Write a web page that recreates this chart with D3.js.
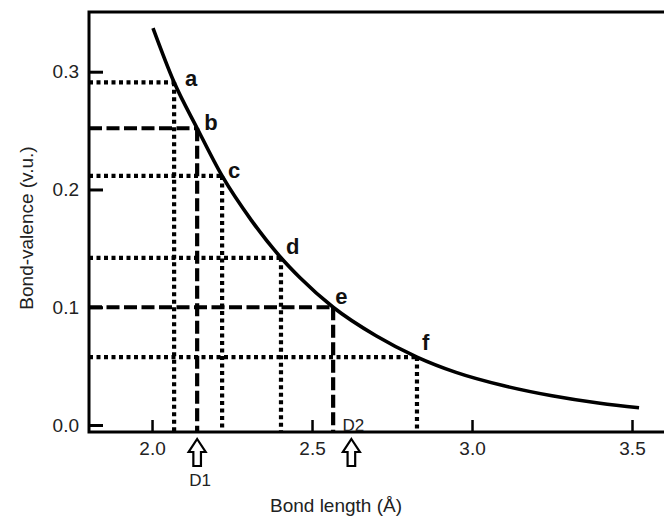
<!DOCTYPE html>
<html>
<head>
<meta charset="utf-8">
<script src="https://cdn.jsdelivr.net/npm/d3@7"></script>
<style>
  html, body { margin: 0; padding: 0; background: #fff; }
  svg { display: block; }
  text { font-family: "Liberation Sans", Arial, sans-serif; }
</style>
</head>
<body>
<svg id="chart" width="664" height="521"></svg>
<script>
// ---- data ----
const curveR = [2.003, 2.069, 2.141, 2.219, 2.31, 2.403, 2.4625, 2.566, 2.70, 2.828, 2.95, 3.10, 3.25, 3.40, 3.522];
const curveS = [0.337, 0.291, 0.252, 0.2115, 0.174, 0.142, 0.125, 0.100, 0.0758, 0.0577, 0.0447, 0.0333, 0.0248, 0.0184, 0.0146];

const pointLabels = ["a", "b", "c", "d", "e", "f"];
const pointR = [2.069, 2.141, 2.219, 2.403, 2.566, 2.828];
const pointS = [0.291, 0.252, 0.2115, 0.142, 0.100, 0.0577];
const pointStyle = ["dotted", "dashed", "dotted", "dotted", "dashed", "dotted"];

const xTicks = [2.0, 2.5, 3.0, 3.5];
const yTicks = [0.0, 0.1, 0.2, 0.3];

const markerNames = ["D1", "D2"];
const markerR = [2.141, 2.623];

// ---- layout ----
const svg = d3.select("#chart");
const mLeft = 89, mTop = 12, mBottom = 432, mRight = 680;

const x = d3.scaleLinear().domain([1.803, 3.65]).range([mLeft, mRight]);
const y = d3.scaleLinear().domain([-0.00594, 0.3507]).range([mBottom, mTop]);

const dash = { dotted: "4,3.5", dashed: "13,4.5" };
const labelOffsets = [[11, 4], [7, 2], [6, 2], [5, -4], [2, -3], [5, -7]];

// reference lines
pointR.forEach((r, i) => {
  const g = svg.append("g");
  g.append("line")
    .attr("x1", mLeft).attr("x2", x(r))
    .attr("y1", y(pointS[i])).attr("y2", y(pointS[i]))
    .attr("stroke", "#000").attr("stroke-width", 4.2)
    .attr("stroke-dasharray", dash[pointStyle[i]]);
  g.append("line")
    .attr("x1", x(r)).attr("x2", x(r))
    .attr("y1", y(pointS[i])).attr("y2", mBottom)
    .attr("stroke", "#000").attr("stroke-width", 4.2)
    .attr("stroke-dasharray", dash[pointStyle[i]]);
});

// curve
const line = d3.line()
  .x(d => x(d[0])).y(d => y(d[1]))
  .curve(d3.curveMonotoneX);
svg.append("path")
  .datum(curveR.map((r, i) => [r, curveS[i]]))
  .attr("d", line)
  .attr("fill", "none").attr("stroke", "#000").attr("stroke-width", 3.6);

// point labels
pointLabels.forEach((t, i) => {
  svg.append("text")
    .attr("x", x(pointR[i]) + labelOffsets[i][0])
    .attr("y", y(pointS[i]) + labelOffsets[i][1])
    .attr("font-size", 22).attr("font-weight", "bold")
    .attr("fill", "#111")
    .text(t);
});

// axes
const xAxis = svg.append("g").attr("transform", `translate(0,${mBottom})`)
  .call(d3.axisBottom(x).tickValues(xTicks).tickSize(-12).tickPadding(10)
        .tickFormat(d3.format(".1f")));
xAxis.select(".domain").remove();
xAxis.selectAll(".tick line").attr("stroke", "#000").attr("stroke-width", 2.5);
xAxis.selectAll(".tick text").attr("font-size", 19).attr("fill", "#222")
  .attr("font-family", "Liberation Sans, Arial, sans-serif");

const yAxis = svg.append("g").attr("transform", `translate(${mLeft},0)`)
  .call(d3.axisLeft(y).tickValues(yTicks).tickSize(-14).tickPadding(10)
        .tickFormat(d3.format(".1f")));
yAxis.select(".domain").remove();
yAxis.selectAll(".tick line").attr("stroke", "#000").attr("stroke-width", 3);
yAxis.selectAll(".tick text").attr("font-size", 19).attr("fill", "#222")
  .attr("font-family", "Liberation Sans, Arial, sans-serif");

// frame
svg.append("path")
  .attr("d", `M${mRight},${mTop}H${mLeft}V${mBottom}H${mRight}`)
  .attr("fill", "none").attr("stroke", "#000").attr("stroke-width", 3);

// markers (hollow up arrows)
markerR.forEach((r, i) => {
  const cx = x(r), t0 = 439, hb = 452, b0 = 466, hw = 8.5, sw = 3.8;
  svg.append("path")
    .attr("d", `M${cx},${t0} L${cx + hw},${hb} L${cx + sw},${hb} L${cx + sw},${b0} L${cx - sw},${b0} L${cx - sw},${hb} L${cx - hw},${hb} Z`)
    .attr("fill", "#fff").attr("stroke", "#000").attr("stroke-width", 2.2);
});
svg.append("text").attr("x", x(markerR[0]) + 3).attr("y", 486)
  .attr("text-anchor", "middle").attr("font-size", 17).attr("fill", "#222")
  .text(markerNames[0]);
svg.append("text").attr("x", x(markerR[1]) + 2).attr("y", 431)
  .attr("text-anchor", "middle").attr("font-size", 17).attr("fill", "#222")
  .text(markerNames[1]);

// axis titles
svg.append("text").attr("x", 336).attr("y", 512)
  .attr("text-anchor", "middle").attr("font-size", 19).attr("fill", "#222")
  .text("Bond length (Å)");
svg.append("text")
  .attr("transform", "translate(33,228) rotate(-90)")
  .attr("text-anchor", "middle").attr("font-size", 19).attr("fill", "#222")
  .text("Bond-valence (v.u.)");
</script>
</body>
</html>
